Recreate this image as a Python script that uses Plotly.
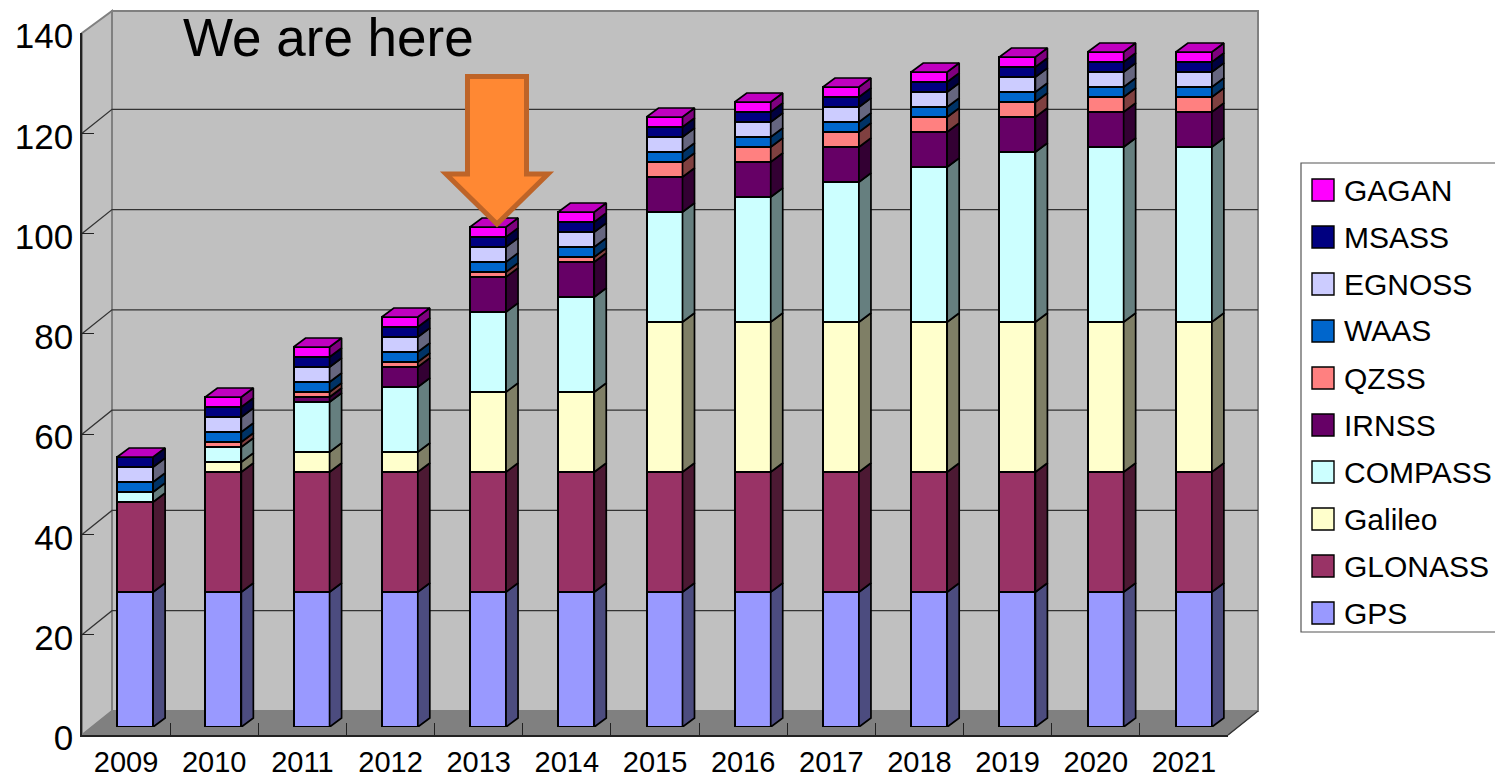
import plotly.graph_objects as go

years = ["2009","2010","2011","2012","2013","2014","2015","2016","2017","2018","2019","2020","2021"]
names = ["GPS","GLONASS","Galileo","COMPASS","IRNSS","QZSS","WAAS","EGNOSS","MSASS","GAGAN"]
GPS     = [27]*13
GLONASS = [18,24,24,24,24,24,24,24,24,24,24,24,24]
Galileo = [0,2,4,4,16,16,30,30,30,30,30,30,30]
COMPASS = [2,3,10,13,16,19,22,25,28,31,34,35,35]
IRNSS   = [0,0,1,4,7,7,7,7,7,7,7,7,7]
QZSS    = [0,1,1,1,1,1,3,3,3,3,3,3,3]
WAAS    = [2]*13
EGNOSS  = [3]*13
MSASS   = [2]*13
GAGAN   = [0,2,2,2,2,2,2,2,2,2,2,2,2]
series = [GPS,GLONASS,Galileo,COMPASS,IRNSS,QZSS,WAAS,EGNOSS,MSASS,GAGAN]
colors = ["#9999FF","#993366","#FFFFCC","#CCFFFF","#660066","#FF8080","#0066CC","#CCCCFF","#000080","#FF00FF"]
y_ticks = [0,20,40,60,80,100,120,140]

W, H = 1495, 777
L, R, T, B = 82, 1228, 33, 735          # front plane of the plot box, px
DX, DY = 30, 24                         # depth of the box, px
BAR_L, BAR_R, BAR_T, BAR_B = 91, 1238, 27, 727   # plot box of the bar plane, px
BW, BD, BH = 36, 12, 9                  # bar width, bar depth x, bar depth y, px
px_per_cat = (BAR_R - BAR_L) / len(years)
px_per_val = (BAR_B - BAR_T) / 140
box_per_val = (B - T) / 140
fx = lambda p: p / W
fy = lambda p: 1 - p / H

def dark(c, f):
    r, g, b = int(c[1:3],16), int(c[3:5],16), int(c[5:7],16)
    return "rgb(%d,%d,%d)" % (r*f, g*f, b*f)

fig = go.Figure()
# keeps the category axis alive
fig.add_trace(go.Scatter(x=years, y=[None]*len(years), xaxis="x", yaxis="y", showlegend=False, hoverinfo="skip"))

idx = list(range(len(years)))
w = BW / px_per_cat; dx = BD / px_per_cat; dy = BH / px_per_val
for n, vals, c in zip(names, series, colors):
    fig.add_trace(go.Bar(x=idx, y=vals, name=n, width=w, xaxis="x2", yaxis="y2",
                         marker=dict(color=c, line=dict(color="#000000", width=2)), showlegend=False))
base = [0]*len(years)
for n, vals, c in zip(names, series, colors):
    xs, ys = [], []
    for i, v in enumerate(vals):
        if v:
            x0 = i + w/2; b = base[i]; t = b + v
            xs += [x0, x0+dx, x0+dx, x0, x0, None]
            ys += [b, b+dy, t+dy, t, b, None]
        base[i] += v
    fig.add_trace(go.Scatter(x=xs, y=ys, mode="lines", fill="toself", fillcolor=dark(c, 0.5),
                             line=dict(color="#000000", width=1.7), xaxis="x2", yaxis="y2",
                             showlegend=False, hoverinfo="skip"))
xs, ys = [], []
for i, t in enumerate(base):
    x0 = i - w/2
    xs += [x0, x0+dx, x0+w+dx, x0+w, x0, None]
    ys += [t, t+dy, t+dy, t, t, None]
fig.add_trace(go.Scatter(x=xs, y=ys, mode="lines", fill="toself", fillcolor="#C000C0",
                         line=dict(color="#000000", width=1.7), xaxis="x2", yaxis="y2",
                         showlegend=False, hoverinfo="skip"))

def poly(pts):
    return "M" + "L".join("%g,%g" % (fx(x), fy(y)) for x, y in pts) + "Z"
paper = dict(xref="paper", yref="paper")
shapes = [
    dict(type="path", path=poly([(L+DX,T-DY+2),(R+DX,T-DY+2),(R+DX,B-DY),(L+DX,B-DY)]), fillcolor="#C0C0C0",
         line=dict(color="#808080", width=2), layer="below", **paper),
    dict(type="path", path=poly([(L,T),(L+DX,T-DY+2),(L+DX,B-DY),(L,B)]), fillcolor="#C0C0C0",
         line=dict(color="#808080", width=2), layer="below", **paper),
    dict(type="path", path=poly([(L,B),(L+DX,B-DY),(R+DX,B-DY),(R,B)]), fillcolor="#808080",
         line=dict(color="#808080", width=1), layer="below", **paper),
    dict(type="line", x0=fx(R), y0=fy(B), x1=fx(R+DX), y1=fy(B-DY), line=dict(color="#333333", width=1.5), layer="below", **paper),
]
for v in y_ticks[1:-1]:
    yp = B - v * box_per_val
    shapes.append(dict(type="path", path="M%g,%gL%g,%gL%g,%g" % (fx(L), fy(yp), fx(L+DX), fy(yp-DY), fx(R+DX), fy(yp-DY)),
                       line=dict(color="#333333", width=1.3), layer="below", **paper))
# arrow
shapes.append(dict(type="path", path=poly([(467.5,76.5),(526.5,76.5),(526.5,174),(548,174),(497,224),(446,174),(467.5,174)]),
                   fillcolor="#FF8833", line=dict(color="#BE6428", width=5), layer="above", **paper))
# legend box
LX0, LY0, LY1 = 1301, 163, 632
shapes.append(dict(type="rect", x0=fx(LX0), x1=fx(LX0+400), y0=fy(LY1), y1=fy(LY0), fillcolor="#FFFFFF",
                   line=dict(color="#555555", width=1.2), layer="below", **paper))
annotations = [dict(text="We are here", x=fx(181), y=fy(37), xanchor="left", yanchor="middle", showarrow=False,
                    font=dict(size=53, color="#000000"), **paper)]
for k, (n, c) in enumerate(zip(names[::-1], colors[::-1])):
    cy = 190 + k * 47
    shapes.append(dict(type="rect", x0=fx(1312), x1=fx(1334), y0=fy(cy+11), y1=fy(cy-11), fillcolor=c,
                       line=dict(color="#000000", width=1.4), layer="above", **paper))
    annotations.append(dict(text=n, x=fx(1342), y=fy(cy), xanchor="left", yanchor="middle", showarrow=False,
                            font=dict(size=30, color="#000000"), **paper))

axline = dict(showline=True, linecolor="#222222", linewidth=1.6, showgrid=False, zeroline=False,
              ticks="inside", tickcolor="#222222", tickwidth=1.4, ticklen=12, automargin=False)
fig.update_layout(
    width=W, height=H, margin=dict(l=0, r=0, t=0, b=0, pad=0), paper_bgcolor="#FFFFFF", plot_bgcolor="rgba(0,0,0,0)",
    barmode="stack", showlegend=False, shapes=shapes, annotations=annotations,
    font=dict(family="Liberation Sans", color="#000000"),
    xaxis=dict(domain=[fx(L), fx(R)], type="category", categoryorder="array", categoryarray=years,
               range=[-0.5, len(years)-0.5], tickson="boundaries", anchor="y",
               tickfont=dict(size=29), **axline),
    yaxis=dict(domain=[fy(B), fy(T)], range=[0, 140], tickvals=y_ticks, anchor="x",
               ticklabelshift=3, tickfont=dict(size=35), **axline),
    xaxis2=dict(domain=[fx(BAR_L), fx(BAR_R)], range=[-0.5, len(years)-0.5], anchor="y2", visible=False, automargin=False),
    yaxis2=dict(domain=[fy(BAR_B), fy(BAR_T)], range=[0, 140], anchor="x2", visible=False, automargin=False),
)
fig.write_html("out.html", config=dict(displayModeBar=False),
               post_script="document.body.style.margin='0';document.documentElement.style.overflow='hidden';")
